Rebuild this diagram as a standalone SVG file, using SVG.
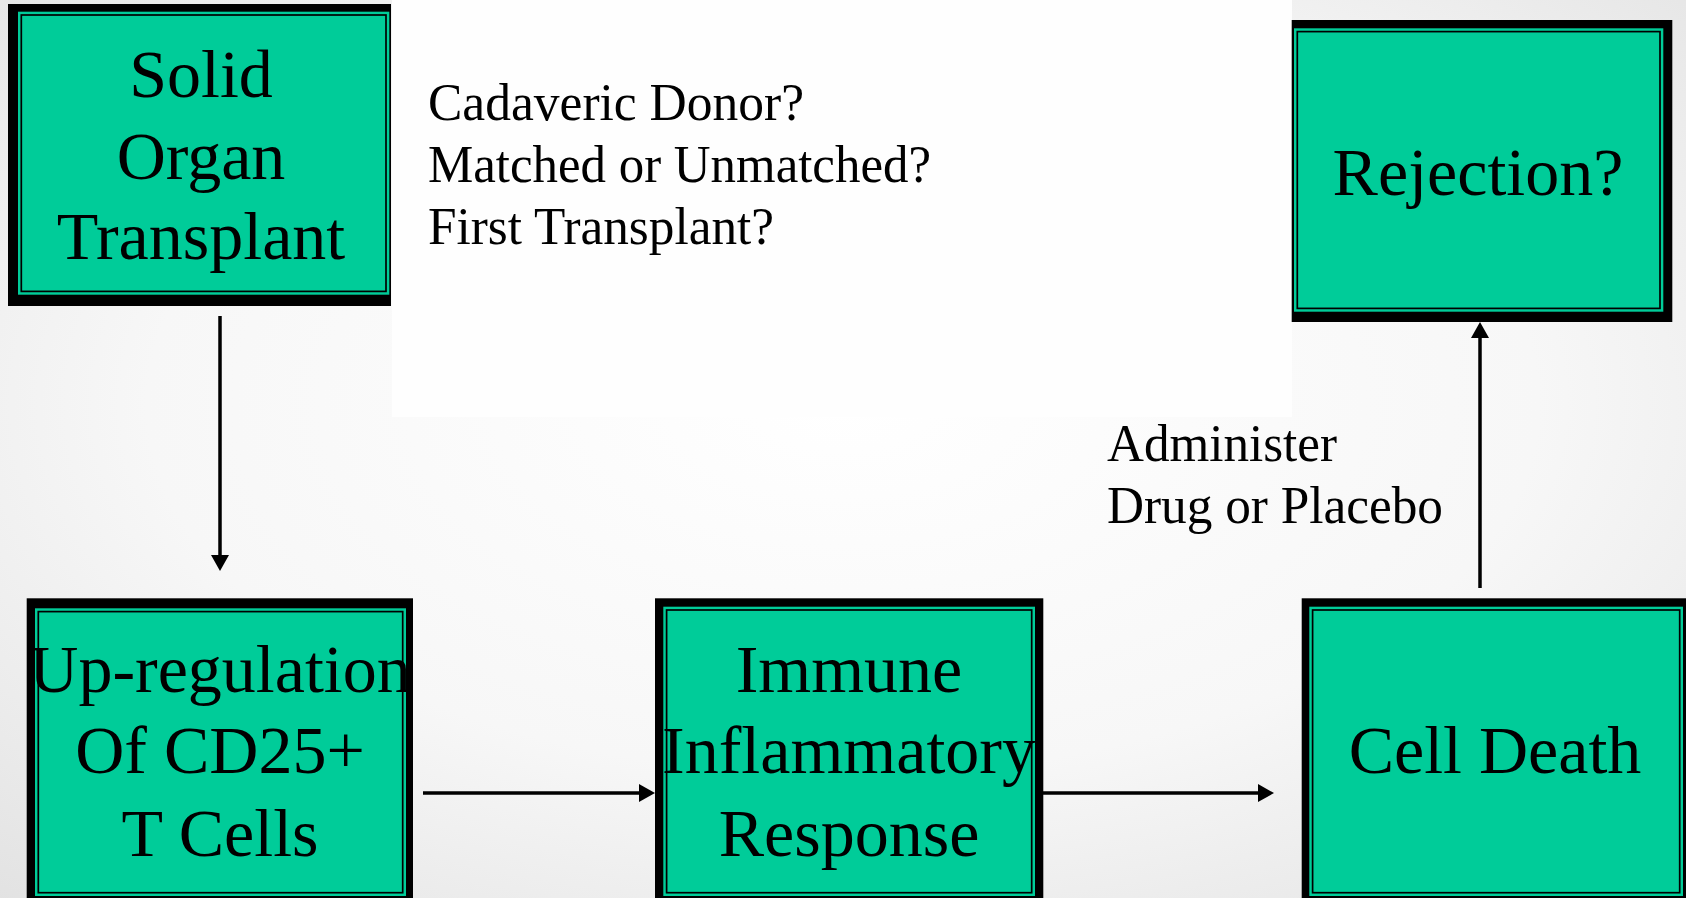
<svg xmlns="http://www.w3.org/2000/svg" width="1686" height="898" viewBox="0 0 1686 898">
  <defs>
    <radialGradient id="bg" cx="0.5" cy="0.45" r="0.75">
      <stop offset="0" stop-color="#ffffff"/>
      <stop offset="0.55" stop-color="#f7f7f7"/>
      <stop offset="1" stop-color="#e2e2e2"/>
    </radialGradient>
    <marker id="ah" markerUnits="userSpaceOnUse" markerWidth="16" markerHeight="18" refX="0" refY="9" orient="auto">
      <path d="M0,0 L16,9 L0,18 z" fill="#000"/>
    </marker>
    <style>
      .outer { fill: #000; }
      .band { fill: #00CC99; }
      .rule { fill: none; stroke: #000; stroke-width: 1.7; }
      .lbl { font-family: 'Liberation Serif', 'Times New Roman', serif; font-size: 68px; text-anchor: middle; fill: #000; }
      .note { font-family: 'Liberation Serif', 'Times New Roman', serif; font-size: 52px; fill: #000; }
      .conn { stroke: #000; stroke-width: 3.5; fill: none; }
    </style>
  </defs>

  <rect x="0" y="0" width="1686" height="898" fill="url(#bg)"/>
  <rect x="392" y="0" width="900" height="417" fill="#fefefe"/>

  <g id="node-solid-organ-transplant">
    <rect class="outer" x="8" y="4" width="383" height="302"/>
    <rect class="band" x="18" y="11.7" width="371.3" height="283"/>
    <rect class="rule" x="21.3" y="15" width="364.7" height="276.4"/>
    <text class="lbl" x="201" y="97">Solid</text>
    <text class="lbl" x="201" y="179">Organ</text>
    <text class="lbl" x="201" y="259">Transplant</text>
  </g>

  <g id="node-rejection">
    <rect class="outer" x="1291.7" y="20" width="380.6" height="302"/>
    <rect class="band" x="1294" y="28.3" width="369.3" height="283.4"/>
    <rect class="rule" x="1297.3" y="31.6" width="362.7" height="276.8"/>
    <text class="lbl" x="1478" y="195">Rejection?</text>
  </g>

  <g id="node-upregulation">
    <rect class="outer" x="26.7" y="598.3" width="386.3" height="299.7"/>
    <rect class="band" x="35" y="608.3" width="371" height="287.7"/>
    <rect class="rule" x="38.3" y="611.6" width="364.4" height="281.1"/>
    <text class="lbl" x="220" y="692">Up-regulation</text>
    <text class="lbl" x="220" y="773">Of CD25+</text>
    <text class="lbl" x="220" y="856">T Cells</text>
  </g>

  <g id="node-immune-response">
    <rect class="outer" x="655" y="598.3" width="388.3" height="299.7"/>
    <rect class="band" x="663.3" y="606.7" width="371.7" height="289.3"/>
    <rect class="rule" x="666.6" y="610" width="365.1" height="282.7"/>
    <text class="lbl" x="849" y="692">Immune</text>
    <text class="lbl" x="849" y="773">Inflammatory</text>
    <text class="lbl" x="849" y="856">Response</text>
  </g>

  <g id="node-cell-death">
    <rect class="outer" x="1301.7" y="598.3" width="384.3" height="299.7"/>
    <rect class="band" x="1309.3" y="606.7" width="373.7" height="289.3"/>
    <rect class="rule" x="1312.6" y="610" width="367.1" height="282.7"/>
    <text class="lbl" x="1495" y="773">Cell Death</text>
  </g>

  <g id="notes">
    <text class="note" x="428" y="120" textLength="376" lengthAdjust="spacingAndGlyphs">Cadaveric Donor?</text>
    <text class="note" x="428" y="182" textLength="503" lengthAdjust="spacingAndGlyphs">Matched or Unmatched?</text>
    <text class="note" x="428" y="244" textLength="346" lengthAdjust="spacingAndGlyphs">First Transplant?</text>
    <text class="note" x="1107" y="461" textLength="230" lengthAdjust="spacingAndGlyphs">Administer</text>
    <text class="note" x="1107" y="523" textLength="336" lengthAdjust="spacingAndGlyphs">Drug or Placebo</text>
  </g>

  <g id="connectors">
    <line class="conn" x1="220" y1="316" x2="220" y2="555" marker-end="url(#ah)"/>
    <line class="conn" x1="423" y1="793" x2="639" y2="793" marker-end="url(#ah)"/>
    <line class="conn" x1="1043" y1="793" x2="1258" y2="793" marker-end="url(#ah)"/>
    <line class="conn" x1="1480" y1="588" x2="1480" y2="338" marker-end="url(#ah)"/>
  </g>
</svg>
